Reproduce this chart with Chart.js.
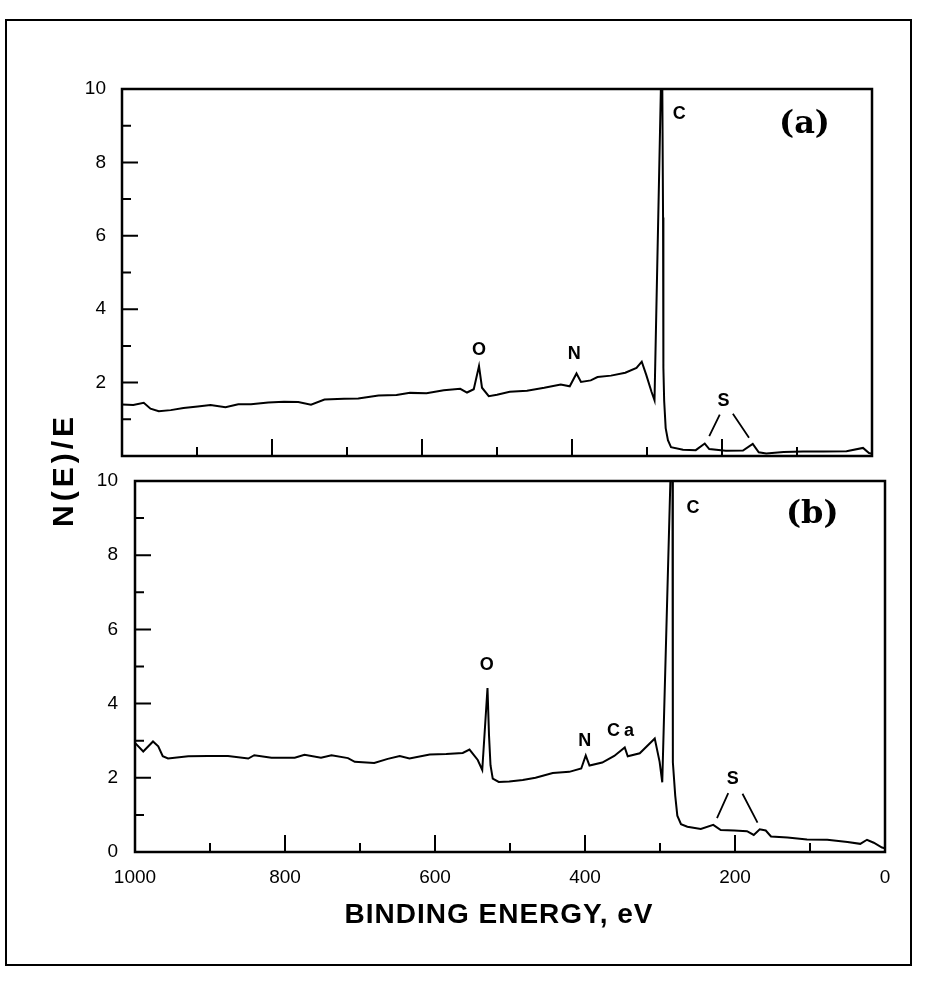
<!DOCTYPE html>
<html>
<head>
<meta charset="utf-8">
<script src="https://cdn.jsdelivr.net/npm/chart.js@4.4.0/dist/chart.umd.min.js"></script>
<style>
  html, body { margin: 0; padding: 0; background: #fff; }
  #fig { position: relative; width: 927px; height: 984px; background: #fff; overflow: hidden; }
  #fig canvas { position: absolute; left: 0; }
  #frame { position: absolute; left: 5px; top: 19px; width: 907px; height: 947px; border: 2px solid #000; box-sizing: border-box; }
  .title { position: absolute; font-family: "Liberation Sans", Arial, sans-serif; font-weight: bold; color: #000; white-space: nowrap; }
  #ytitle { left: 63px; top: 470px; font-size: 30px; letter-spacing: 4px; transform: translate(-50%, -50%) rotate(-90deg); }
  #xtitle { left: 499px; top: 900px; font-size: 28px; letter-spacing: 1px; transform: translateX(-50%); line-height: 28px; }
</style>
</head>
<body>
<div id="fig">
  <div id="frame"></div>
  <canvas id="chartA" width="927" height="484" style="top:0"></canvas>
  <canvas id="chartB" width="927" height="544" style="top:440px"></canvas>
  <div class="title" id="ytitle">N(E)/E</div>
  <div class="title" id="xtitle">BINDING ENERGY, eV</div>
</div>
<script>
'use strict';
// spectrum (a): binding energy (eV) and N(E)/E
let energyA = [1000, 985, 971, 962, 951, 935, 918, 899, 882, 862, 845, 828, 805, 784, 765, 748, 730, 704, 685, 658,
  634, 616, 594, 571, 549, 540, 531, 524, 520, 511, 500, 483, 460, 437, 415, 403, 394, 388, 375, 366,
  348, 329, 314, 307, 301, 294, 290, 280, 278.6, 278.3, 278, 277.1, 275.1, 272.1, 268, 252, 235, 223, 217, 195,
  172, 159, 151, 141, 118, 92, 65, 34, 12, 4, 0];
let countsA = [1.40, 1.39, 1.45, 1.29, 1.22, 1.25, 1.31, 1.35, 1.39, 1.33, 1.41, 1.41, 1.46, 1.48, 1.47, 1.40, 1.54, 1.56, 1.57, 1.65,
  1.66, 1.72, 1.71, 1.79, 1.83, 1.73, 1.82, 2.45, 1.86, 1.63, 1.67, 1.75, 1.78, 1.86, 1.95, 1.90, 2.25, 2.02, 2.06, 2.15,
  2.19, 2.27, 2.40, 2.57, 2.21, 1.75, 1.52, 11.5, 6.5, 3.8, 2.4, 1.5, 0.76, 0.43, 0.24, 0.17, 0.16, 0.34, 0.19, 0.14,
  0.15, 0.33, 0.10, 0.07, 0.11, 0.12, 0.12, 0.13, 0.22, 0.08, 0.06];

// spectrum (b)
let energyB = [1000, 989, 976, 969, 963, 956, 929, 903, 876, 849, 841, 818, 787, 774, 752, 738, 716, 707, 681, 663,
  647, 634, 607, 585, 563, 554, 543, 537, 530, 528, 526, 523, 515, 501, 483, 466, 443, 421, 405, 399,
  394, 377, 361, 347, 343, 327, 309, 307, 300.5, 297, 283.5, 283, 282.7, 279.7, 276.9, 272, 263.5, 245.6, 229, 219,
  201, 184, 175, 167, 159, 152, 130, 104, 77, 50, 33, 24, 15, 4, 0];
let countsB = [2.94, 2.71, 2.98, 2.85, 2.58, 2.52, 2.58, 2.59, 2.59, 2.52, 2.61, 2.54, 2.54, 2.62, 2.54, 2.61, 2.53, 2.43, 2.40, 2.51,
  2.59, 2.52, 2.63, 2.64, 2.67, 2.76, 2.48, 2.21, 4.42, 3.15, 2.34, 1.98, 1.89, 1.90, 1.94, 2.00, 2.13, 2.16, 2.25, 2.60,
  2.33, 2.41, 2.59, 2.82, 2.58, 2.66, 3.02, 3.06, 2.43, 1.88, 12, 4.2, 2.42, 1.52, 0.98, 0.75, 0.68, 0.62, 0.73, 0.59,
  0.58, 0.56, 0.46, 0.61, 0.58, 0.42, 0.39, 0.34, 0.33, 0.27, 0.22, 0.33, 0.25, 0.12, 0.10];

// tick values
let yLabelsA = [2, 4, 6, 8, 10];
let yLabelsB = [0, 2, 4, 6, 8, 10];
let xLabelsB = [1000, 800, 600, 400, 200, 0];
let xMajor = [800, 600, 400, 200];
let xMinor = [900, 700, 500, 300, 100];
let yMajor = [2, 4, 6, 8];
let yMinor = [1, 3, 5, 7, 9];

// peak labels, placed in data units
let notesA = [
  {text: 'C', e: 257, v: 9.33, kind: 'tag'},
  {text: '(a)', e: 90, v: 9.03, kind: 'panel'},
  {text: 'O', e: 524, v: 2.88, kind: 'tag'},
  {text: 'N', e: 397, v: 2.77, kind: 'tag'},
  {text: 'S', e: 198, v: 1.49, kind: 'tag'}
];
let pointersA = [[203, 1.13, 217, 0.54], [185.5, 1.15, 164, 0.50]];
let notesB = [
  {text: 'C', e: 256, v: 9.26, kind: 'tag'},
  {text: '(b)', e: 97, v: 9.10, kind: 'panel'},
  {text: 'O', e: 531, v: 5.05, kind: 'tag'},
  {text: 'N', e: 400.5, v: 2.99, kind: 'tag'},
  {text: 'Ca', e: 350, v: 3.26, kind: 'tag'},
  {text: 'S', e: 203, v: 1.98, kind: 'tag'}
];
let pointersB = [[209, 1.59, 224, 0.91], [190, 1.57, 170, 0.79]];

const SANS = '"Liberation Sans", Arial, sans-serif';

function toPoints(xs, ys) {
  let pts = [];
  for (let i = 0; i < xs.length; i++) {
    pts.push({x: xs[i], y: ys[i]});
  }
  return pts;
}

// box, inward tick marks and peak labels
const boxPlugin = {
  id: 'boxPlugin',
  afterDatasetsDraw(chart, args, opts) {
    const ctx = chart.ctx;
    const a = chart.chartArea;
    const x = chart.scales.x;
    const y = chart.scales.y;
    ctx.save();
    ctx.strokeStyle = '#000';
    ctx.lineWidth = 2.5;
    ctx.strokeRect(a.left, a.top, a.right - a.left, a.bottom - a.top);

    ctx.lineWidth = 2;
    ctx.beginPath();
    xMajor.forEach(e => { let p = x.getPixelForValue(e); ctx.moveTo(p, a.bottom); ctx.lineTo(p, a.bottom - 17); });
    xMinor.forEach(e => { let p = x.getPixelForValue(e); ctx.moveTo(p, a.bottom); ctx.lineTo(p, a.bottom - 9); });
    yMajor.forEach(v => { let p = y.getPixelForValue(v); ctx.moveTo(a.left, p); ctx.lineTo(a.left + 16, p); });
    yMinor.forEach(v => { let p = y.getPixelForValue(v); ctx.moveTo(a.left, p); ctx.lineTo(a.left + 9, p); });
    ctx.stroke();

    ctx.lineWidth = 1.8;
    ctx.beginPath();
    opts.pointers.forEach(s => {
      ctx.moveTo(x.getPixelForValue(s[0]), y.getPixelForValue(s[1]));
      ctx.lineTo(x.getPixelForValue(s[2]), y.getPixelForValue(s[3]));
    });
    ctx.stroke();

    ctx.fillStyle = '#000';
    ctx.textAlign = 'center';
    ctx.textBaseline = 'middle';
    opts.notes.forEach(n => {
      if (n.kind === 'panel') {
        ctx.font = 'bold 32px "DejaVu Serif", serif';
        ctx.letterSpacing = '0px';
      } else {
        ctx.font = 'bold 18px ' + SANS;
        ctx.letterSpacing = n.text.length > 1 ? '4px' : '0px';
      }
      ctx.fillText(n.text, x.getPixelForValue(n.e), y.getPixelForValue(n.v));
    });
    ctx.restore();
  }
};

function makeChart(id, xs, ys, yLabels, showX, pad, notes, pointers, labelPad) {
  let ctx = document.getElementById(id).getContext('2d');
  return new Chart(ctx, {
    type: 'line',
    data: {
      datasets: [{
        data: toPoints(xs, ys),
        borderColor: '#000',
        borderWidth: 2,
        pointRadius: 0,
        tension: 0,
        fill: false
      }]
    },
    options: {
      responsive: false,
      animation: false,
      devicePixelRatio: 1,
      layout: {padding: pad},
      plugins: {
        legend: {display: false},
        tooltip: {enabled: false},
        boxPlugin: {notes: notes, pointers: pointers}
      },
      scales: {
        x: {
          type: 'linear',
          reverse: true,
          min: 0,
          max: 1000,
          display: showX,
          grid: {display: false, drawTicks: false},
          border: {display: false},
          afterBuildTicks: s => { s.ticks = xLabelsB.map(v => ({value: v})); },
          afterFit: s => { s.height = showX ? 40 : 0; },
          ticks: {color: '#000', padding: 14, maxRotation: 0, font: {family: SANS, size: 19},
            callback: v => String(v)}
        },
        y: {
          type: 'linear',
          min: 0,
          max: 10,
          grid: {display: false, drawTicks: false},
          border: {display: false},
          afterBuildTicks: s => { s.ticks = yLabels.map(v => ({value: v})); },
          afterFit: s => { s.width = 60; },
          ticks: {color: '#000', padding: labelPad, font: {family: SANS, size: 19},
            callback: v => String(v)}
        }
      }
    },
    plugins: [boxPlugin]
  });
}

// panel (a): plot box 122..872 x 89..456
makeChart('chartA', energyA, countsA, yLabelsA, false, {left: 62, right: 55, top: 89, bottom: 28}, notesA, pointersA, 16);
// panel (b): plot box 135..885 x 481..852 (canvas starts at 440)
makeChart('chartB', energyB, countsB, yLabelsB, true, {left: 75, right: 42, top: 41, bottom: 92}, notesB, pointersB, 17);
</script>
</body>
</html>
